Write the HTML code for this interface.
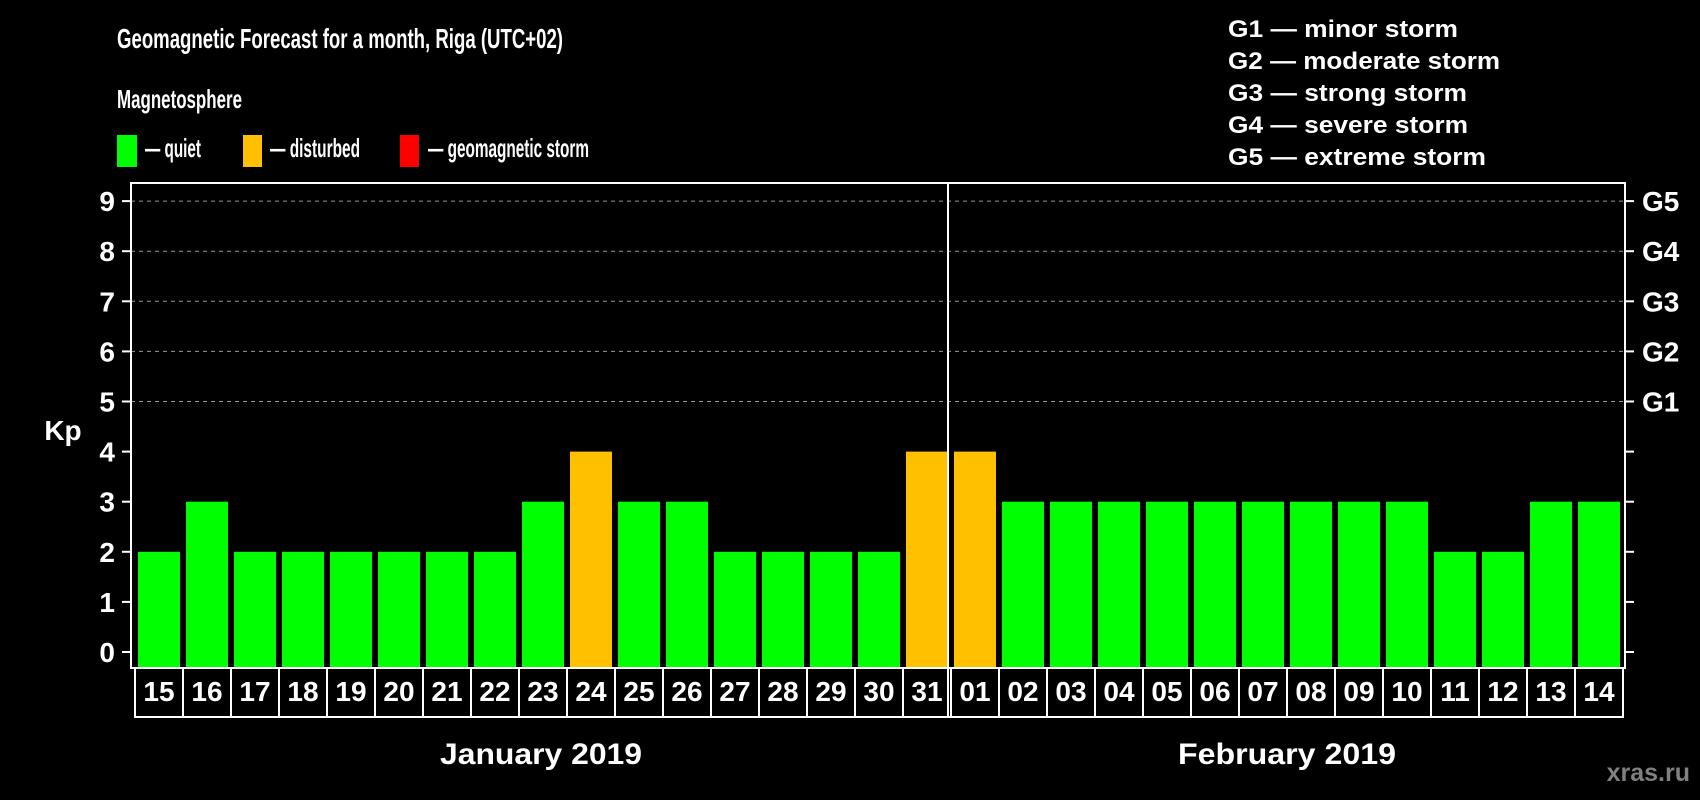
<!DOCTYPE html>
<html><head><meta charset="utf-8"><style>
html,body{margin:0;padding:0;background:#000;}
svg{display:block;font-family:"Liberation Sans",Arial,sans-serif;font-weight:bold;}
</style></head><body>
<svg id="chart" width="1700" height="800" viewBox="0 0 1700 800" xmlns="http://www.w3.org/2000/svg">
<rect width="1700" height="800" fill="#000"/>
<text x="117" y="48" fill="#fff" font-size="28" textLength="446" lengthAdjust="spacingAndGlyphs">Geomagnetic Forecast for a month, Riga (UTC+02)</text>
<text x="117" y="108" fill="#fff" font-size="26" textLength="125" lengthAdjust="spacingAndGlyphs">Magnetosphere</text>
<rect x="117" y="135" width="20" height="32" fill="#00ff00"/>
<text x="145" y="157" fill="#fff" font-size="26" textLength="56" lengthAdjust="spacingAndGlyphs">— quiet</text>
<rect x="243" y="135" width="19" height="32" fill="#ffc000"/>
<text x="270" y="157" fill="#fff" font-size="26" textLength="90" lengthAdjust="spacingAndGlyphs">— disturbed</text>
<rect x="400" y="135" width="19" height="32" fill="#ff0000"/>
<text x="428" y="157" fill="#fff" font-size="26" textLength="161" lengthAdjust="spacingAndGlyphs">— geomagnetic storm</text>
<g fill="#fff" font-size="24">
<text x="1228" y="37" textLength="230" lengthAdjust="spacingAndGlyphs">G1 — minor storm</text>
<text x="1228" y="69" textLength="272" lengthAdjust="spacingAndGlyphs">G2 — moderate storm</text>
<text x="1228" y="101" textLength="239" lengthAdjust="spacingAndGlyphs">G3 — strong storm</text>
<text x="1228" y="133" textLength="240" lengthAdjust="spacingAndGlyphs">G4 — severe storm</text>
<text x="1228" y="165" textLength="258" lengthAdjust="spacingAndGlyphs">G5 — extreme storm</text>
</g>
<g id="grid"></g>
<g id="bars"></g>
<g id="axes"></g>
<text x="63" y="440" fill="#fff" font-size="28" text-anchor="middle">Kp</text>
<text x="541" y="764" fill="#fff" font-size="30" text-anchor="middle" textLength="202" lengthAdjust="spacingAndGlyphs">January 2019</text>
<text x="1287" y="764" fill="#fff" font-size="30" text-anchor="middle" textLength="218" lengthAdjust="spacingAndGlyphs">February 2019</text>
<text x="1690" y="781" fill="#808080" font-size="25" text-anchor="end">xras.ru</text>
</svg>
<script>
const days = ["15","16","17","18","19","20","21","22","23","24","25","26","27","28","29","30","31","01","02","03","04","05","06","07","08","09","10","11","12","13","14"];
const kpValues = [2,3,2,2,2,2,2,2,3,4,3,3,2,2,2,2,4,4,3,3,3,3,3,3,3,3,3,2,2,3,3];
const yTicks = [0,1,2,3,4,5,6,7,8,9];
const gLabels = ["G1","G2","G3","G4","G5"];
const gLevels = [5,6,7,8,9];
const febStartIndex = 17;

const NS = "http://www.w3.org/2000/svg";
const L = 131, R = 1625, T = 183, B = 668, BOXB = 717;
const y = v => 652 - v * 50.1;
const step = 48, x0 = 135;
const x = i => x0 + i * step;
function mk(tag, attrs, parent) {
  const e = document.createElementNS(NS, tag);
  for (const k in attrs) e.setAttribute(k, attrs[k]);
  parent.appendChild(e);
  return e;
}
const grid = document.getElementById('grid');
const bars = document.getElementById('bars');
const axes = document.getElementById('axes');
function color(v) { return v >= 5 ? '#ff0000' : v >= 4 ? '#ffc000' : '#00ff00'; }

gLevels.forEach(v => {
  const ln = mk('line', {x1: L, x2: R, y1: y(v), y2: y(v), stroke: '#999', 'stroke-width': 1, 'stroke-dasharray': '4 4'}, grid);
  
  
});

kpValues.forEach((v, i) => {
  const r = mk('rect', {x: x(i) + 3, y: y(v), width: 42, height: B - y(v), fill: color(v)}, bars);
  
  
});

const frame = mk('rect', {x: L, y: T, width: R - L, height: B - T, fill: 'none', stroke: '#fff', 'stroke-width': 2}, axes);



yTicks.forEach(v => {
  const t1 = mk('line', {x1: 122, x2: L, y1: y(v), y2: y(v), stroke: '#fff', 'stroke-width': 2}, axes);
  
  
  const t2 = mk('line', {x1: R, x2: R + 9, y1: y(v), y2: y(v), stroke: '#fff', 'stroke-width': 2}, axes);
  
  
  const lb = mk('text', {x: 115, y: y(v) + 10, fill: '#fff', 'font-size': 28, 'text-anchor': 'end'}, axes);
  lb.textContent = v;
  
  
});

gLabels.forEach((g, i) => {
  const lb = mk('text', {x: 1642, y: y(gLevels[i]) + 10, fill: '#fff', 'font-size': 28}, axes);
  lb.textContent = g;
  
  
});

days.forEach((d, i) => {
  const bx = mk('rect', {x: x(i), y: B, width: step, height: BOXB - B, fill: 'none', stroke: '#fff', 'stroke-width': 2}, axes);
  
  
  const t = mk('text', {x: x(i) + step / 2, y: 701, fill: '#fff', 'font-size': 28, 'text-anchor': 'middle'}, axes);
  t.textContent = d;
  
  
});

const dv = mk('line', {x1: x(febStartIndex) - 3, x2: x(febStartIndex) - 3, y1: T, y2: BOXB, stroke: '#fff', 'stroke-width': 2}, axes);


</script>
</body></html>
